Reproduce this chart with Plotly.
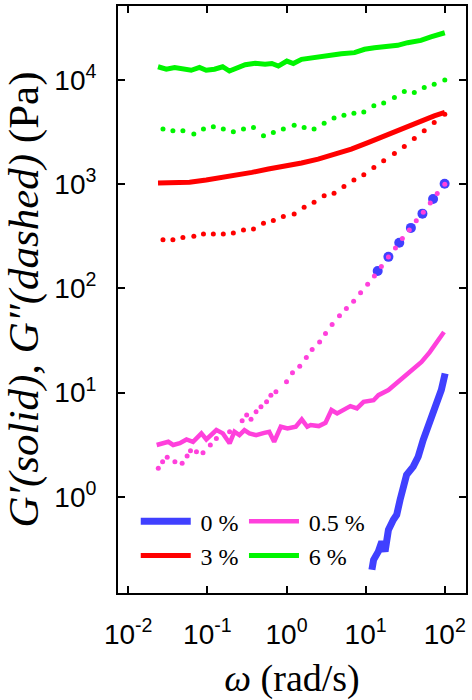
import plotly.graph_objects as go

# ---------------- data ----------------
# 6 % : G' (solid)
w_g6_solid = [0.0238, 0.0303, 0.0386, 0.0491, 0.0625, 0.0796, 0.0966, 0.123, 0.156, 0.190,
              0.225, 0.301, 0.402, 0.537, 0.652, 0.789, 1.01, 1.22, 1.55, 2.28,
              3.35, 4.93, 7.24, 9.68, 12.9, 19.0, 25.4, 33.9, 49.9, 66.7, 84.7, 100]
g6_solid = [13400, 12700, 13200, 12700, 12400, 13200, 12400, 12700, 13400, 12200,
            12700, 14000, 14500, 14200, 14400, 13600, 15200, 14400, 15800, 16600,
            17300, 17900, 18300, 19700, 20400, 21200, 21500, 22800, 24000, 25900, 27500, 28400]

# frequency grid of the dotted G'' data (3 % and 6 %)
w_dotted = [0.0275, 0.0367, 0.0491, 0.0675, 0.0893, 0.119, 0.159, 0.213, 0.286, 0.383,
            0.512, 0.682, 0.912, 1.25, 1.67, 2.23, 2.99, 3.99, 5.32, 7.11,
            9.48, 12.7, 16.9, 23.1, 30.8, 41.2, 55.0, 73.5, 100]
# 6 % : G'' (dotted)
g6_dotted = [3380, 3260, 3260, 3030, 3380, 3560, 3380, 3180, 3380, 3500,
             2920, 3130, 3380, 3690, 3500, 3380, 3850, 4310, 4600, 4810,
             4940, 5650, 6000, 6780, 7740, 7570, 8450, 9120, 10000]
# 3 % : G'' (dotted)
g3_dotted = [294, 294, 309, 316, 333, 333, 333, 341, 364, 372,
             422, 448, 489, 519, 600, 670, 776, 817, 953, 1100,
             1230, 1450, 1680, 1970, 2300, 2750, 3250, 3910, 4700]

# 3 % : G' (solid)
w_g3_solid = [0.0238, 0.0367, 0.0596, 0.0966, 0.156, 0.225, 0.366, 0.590, 1.01, 1.55,
              2.51, 4.06, 6.59, 10.7, 17.3, 28.0, 45.3, 73.5, 100]
g3_solid = [1030, 1040, 1045, 1100, 1160, 1200, 1300, 1400, 1500, 1600,
            1740, 1950, 2170, 2510, 2920, 3380, 3910, 4530, 4880]

# 0.5 % : G'' (dotted)
w_g05_dotted = [0.0240, 0.0272, 0.0311, 0.0389, 0.0480, 0.0555, 0.0612, 0.0728, 0.0881, 0.109,
                0.130, 0.191, 0.275, 0.314, 0.356, 0.412, 0.476, 0.560, 0.635, 0.735,
                1.00, 1.19, 1.47, 1.78, 2.11, 2.62, 3.11, 3.77, 4.67, 5.71,
                7.05, 8.63, 10.6, 12.9, 15.8, 19.4, 23.8, 29.1, 35.6, 43.6,
                53.5, 65.5, 80.2, 100]
g05_dotted = [1.88, 2.18, 2.40, 2.18, 2.10, 2.47, 2.77, 2.71, 2.65, 3.15,
              3.64, 4.22, 5.38, 6.10, 5.55, 6.56, 7.33, 8.18, 9.46, 10.2,
              12.7, 15.5, 17.9, 21.7, 25.9, 30.6, 36.9, 45.0, 54.6, 64.1,
              75.2, 91, 110, 132, 162, 200, 245, 302, 363, 447,
              537, 661, 813, 1000]

# 0.5 % : G' (solid)
w_g05_solid = [0.0229, 0.0277, 0.0321, 0.0370, 0.0449, 0.0545, 0.0659, 0.0841, 0.0971, 0.130,
               0.157, 0.191, 0.220, 0.254, 0.294, 0.340, 0.412, 0.524, 0.605, 0.698,
               0.847, 1.03, 1.31, 1.56, 1.83, 2.02, 2.56, 3.11, 3.70, 4.36,
               5.28, 6.41, 7.76, 9.42, 12.6, 14.5, 19.4, 24.7, 31.4, 39.9,
               50.8, 64.6, 78.2, 97.7]
g05_solid = [3.15, 3.31, 3.38, 3.15, 3.27, 3.56, 3.38, 4.07, 3.56, 4.38,
             4.07, 3.27, 4.22, 3.92, 4.38, 4.07, 3.92, 4.12, 4.22, 3.38,
             4.71, 4.54, 4.71, 5.55, 4.71, 4.89, 4.78, 5.14, 6.81, 6.32,
             6.81, 7.43, 7.06, 8.17, 8.47, 9.46, 10.6, 12.4, 14.2, 16.4,
             19.7, 24.5, 30.6, 38.2]

# 0 % : G' (solid)
w_g0_solid = [12.0, 12.6, 14.5, 16.0, 17.6, 19.4, 22.4, 24.7, 27.2, 29.9,
              32.9, 39.9, 46.1, 53.3, 64.6, 78.2, 90.4, 101]
g0_solid = [0.200, 0.249, 0.300, 0.373, 0.300, 0.483, 0.603, 0.673, 0.935, 1.26,
            1.63, 1.95, 2.43, 3.51, 5.07, 7.89, 10.6, 15.3]

# 0 % : G'' (dotted, large markers)
w_g0_dotted = [14.2, 19.4, 26.6, 37.3, 52.2, 71.1, 99.5]
g0_dotted = [147, 201, 274, 381, 522, 721, 1010]

x_tickvals = [0.01, 0.1, 1, 10, 100]
x_ticktext = ["10<sup>-2</sup>", "10<sup>-1</sup>", "10<sup>0</sup>", "10<sup>1</sup>", "10<sup>2</sup>"]
y_tickvals = [1, 10, 100, 1000, 10000]
y_ticktext = ["10<sup>0</sup>", "10<sup>1</sup>", "10<sup>2</sup>", "10<sup>3</sup>", "10<sup>4</sup>"]

BLUE = "rgb(64,64,255)"
RED = "rgb(255,0,0)"
MAGENTA = "rgb(255,64,220)"
GREEN = "rgb(0,245,0)"

fig = go.Figure()

# dotted G'' traces
fig.add_trace(go.Scatter(x=w_dotted, y=g6_dotted, mode="markers",
                         marker=dict(color=GREEN, size=5), showlegend=False))
fig.add_trace(go.Scatter(x=w_dotted, y=g3_dotted, mode="markers",
                         marker=dict(color=RED, size=5), showlegend=False))
fig.add_trace(go.Scatter(x=w_g0_dotted, y=g0_dotted, mode="markers",
                         marker=dict(color=BLUE, size=10), showlegend=False))
fig.add_trace(go.Scatter(x=w_g05_dotted, y=g05_dotted, mode="markers",
                         marker=dict(color=MAGENTA, size=5), showlegend=False))

# solid G' traces (legend entries)
fig.add_trace(go.Scatter(x=w_g6_solid, y=g6_solid, mode="lines", name="\u20096 %",
                         line=dict(color=GREEN, width=5), legend="legend2", legendrank=2))
fig.add_trace(go.Scatter(x=w_g3_solid, y=g3_solid, mode="lines", name="\u20093 %",
                         line=dict(color=RED, width=5), legend="legend", legendrank=2))
fig.add_trace(go.Scatter(x=w_g05_solid, y=g05_solid, mode="lines", name="\u20090.5 %",
                         line=dict(color=MAGENTA, width=4.5), legend="legend2", legendrank=1))
fig.add_trace(go.Scatter(x=w_g0_solid, y=g0_solid, mode="lines", name="\u20090 %",
                         line=dict(color=BLUE, width=7), legend="legend", legendrank=1))

axis_common = dict(
    type="log", showgrid=False, zeroline=False,
    showline=True, linecolor="black", linewidth=2, mirror="ticks",
    ticks="inside", ticklen=7, tickwidth=2, tickcolor="black",
    tickfont=dict(family="Liberation Sans", size=28, color="black"),
)

legend_font = dict(family="Liberation Serif", size=24, color="black")

fig.update_layout(
    width=472, height=700,
    margin=dict(l=118, r=4, t=5, b=107),
    paper_bgcolor="white", plot_bgcolor="white",
    xaxis=dict(axis_common, range=[-2.129, 2.268], tickvals=x_tickvals, ticktext=x_ticktext,
               ticklabelstandoff=15,
               title=dict(text="<i>ω</i> (rad/s)", standoff=18,
                          font=dict(family="Liberation Serif", size=38, color="black"))),
    yaxis=dict(axis_common, range=[-0.922, 4.710], tickvals=y_tickvals, ticktext=y_ticktext,
               ticklabelstandoff=14,
               title=dict(text="<i>G′(solid), G″(dashed)</i> (Pa)", standoff=2,
                          font=dict(family="Liberation Serif", size=43, color="black"))),
    legend=dict(x=0.051, y=0.16, xanchor="left", yanchor="top", bgcolor="rgba(0,0,0,0)",
                itemwidth=50, font=legend_font, traceorder="normal"),
    legend2=dict(x=0.362, y=0.16, xanchor="left", yanchor="top", bgcolor="rgba(0,0,0,0)",
                 itemwidth=50, font=legend_font, traceorder="normal"),
)

fig.write_html("out.html")
